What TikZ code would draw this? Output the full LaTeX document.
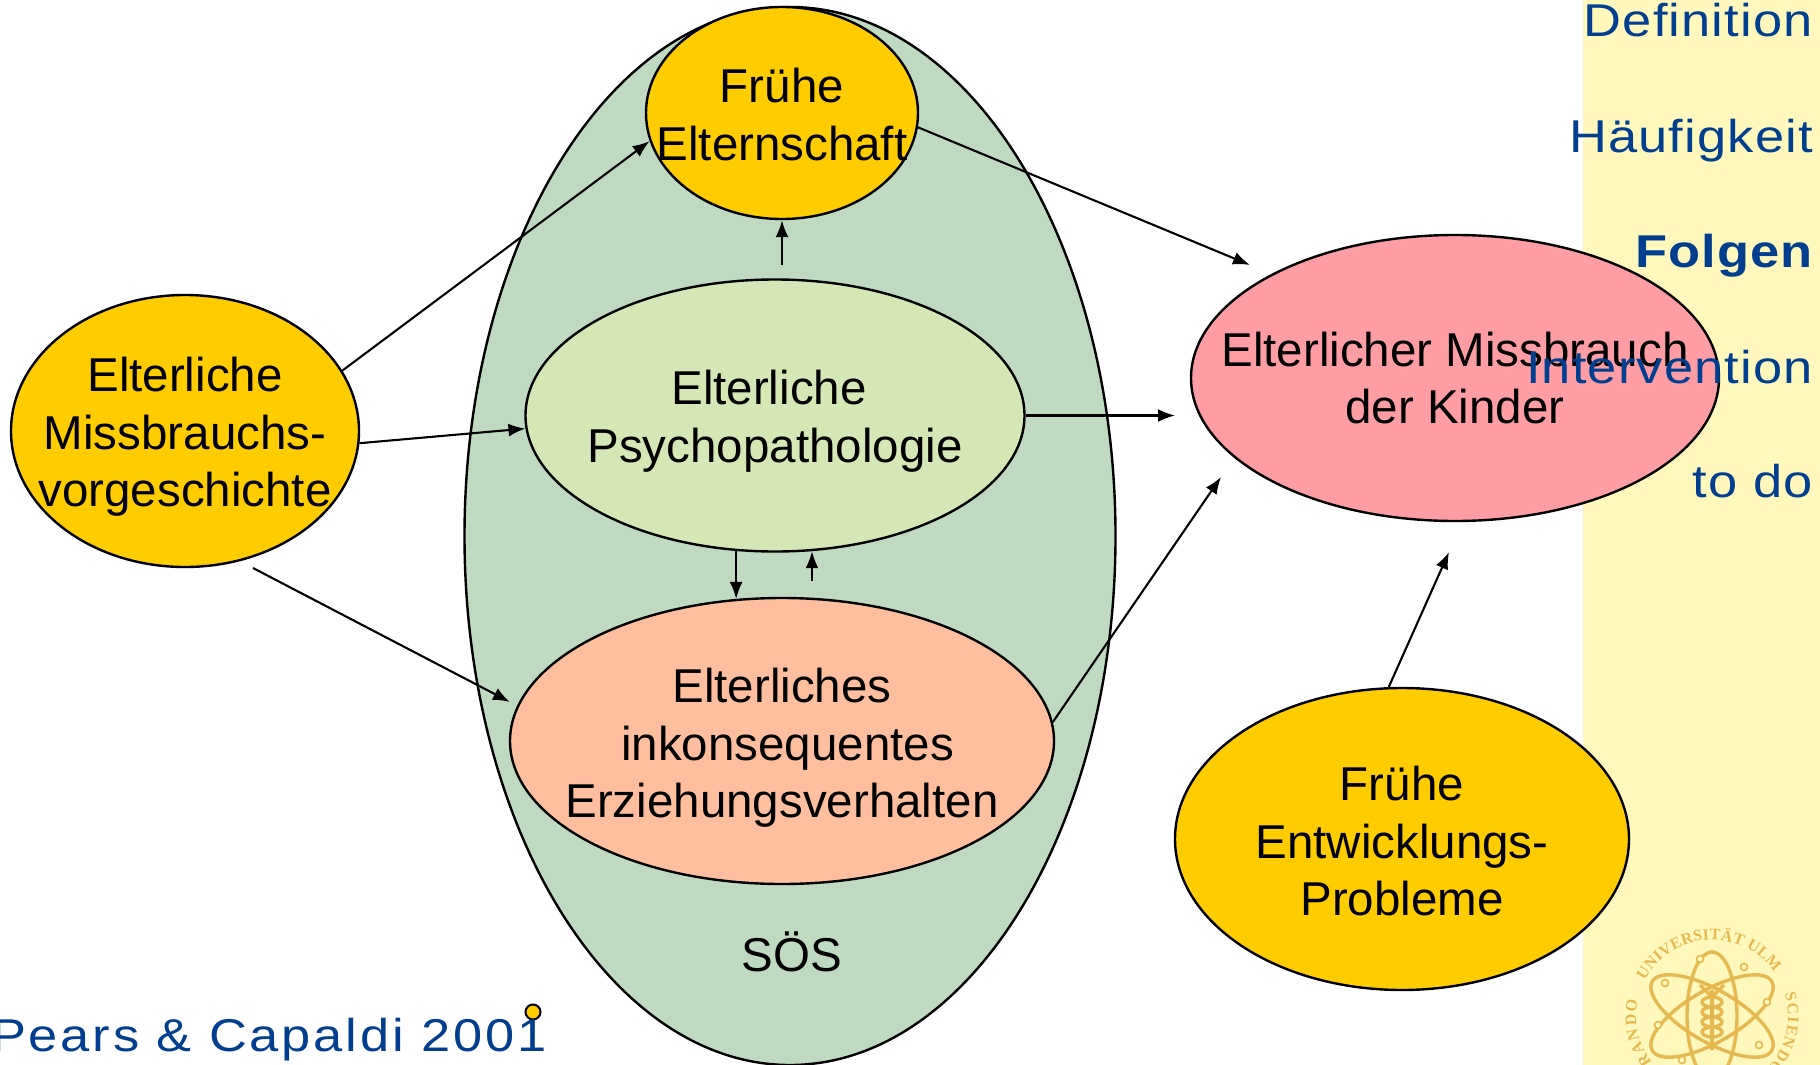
\documentclass[tikz,border=0pt]{standalone}
\usepackage{fontspec}
\usetikzlibrary{arrows.meta,shapes.geometric,decorations.text}
\setmainfont{Liberation Sans}
\newfontfamily\sidefont[LetterSpace=2.5,FakeStretch=1.14]{Liberation Sans}
\newfontfamily\sourcefont[LetterSpace=6.2,FakeStretch=1.14]{Liberation Sans}
\newfontfamily\logotype{Liberation Serif}
\definecolor{strip}{HTML}{FFF8BD}
\definecolor{gold}{HTML}{FFCC00}
\definecolor{sosgreen}{HTML}{C0DAC2}
\definecolor{psygreen}{HTML}{D4E7B5}
\definecolor{salmon}{HTML}{FFBF9F}
\definecolor{rose}{HTML}{FF9DA4}
\definecolor{navy}{HTML}{003F8F}
\definecolor{logo}{HTML}{E6B84E}
\newcommand{\bodyfont}{\fontsize{47.5pt}{57.5pt}\selectfont}
\newcommand{\navyfont}{\fontsize{46pt}{55pt}\selectfont\sidefont}
\newcommand{\logofont}{\fontsize{16pt}{16pt}\selectfont\logotype\bfseries}
\newcommand{\topstrut}[1]{\rule{0pt}{#1pt}}
\tikzset{
  x=1pt,y=-1pt,
  bubble/.style={ellipse,draw=black,line width=2.4pt,inner xsep=-110pt,inner ysep=-50pt,align=center,font=\bodyfont,text=black},
  link/.style={draw=black,line width=2.1pt,-{Latex[length=17pt,width=13pt]}},
  sidelabel/.style={anchor=base east,inner sep=0pt,text=navy,font=\navyfont},
  orbit/.style={draw=logo,line width=3.4pt},
  electron/.style={draw=logo,line width=1.6pt,fill=strip},
  logoarc/.style={decorate,decoration={text along path,text align={fit to path},text={#1}}}
}
\begin{document}
\begin{tikzpicture}
\useasboundingbox (0,0) rectangle (1820,1065);
\fill[white] (0,0) rectangle (1820,1065);
\fill[strip] (1583,0) rectangle (1820,1065);
% logo
\coordinate (lc) at (1712,1016);
\begin{scope}
\clip (1583,900) rectangle (1820,1065);
\draw[orbit] (lc) ellipse [x radius=25,y radius=64];
\draw[orbit,rotate around={60:(lc)}] (lc) ellipse [x radius=26,y radius=69];
\draw[orbit,rotate around={-60:(lc)}] (lc) ellipse [x radius=26,y radius=69];
\draw[orbit] (1712,990) -- (1712,1050);
\draw[orbit] (1700,985) -- (1712,997) -- (1724,985);
\foreach \yy in {1002,1012,1022,1032}{\draw[orbit] (1712,\yy) ellipse [x radius=10,y radius=5];}
\foreach \xx/\yy in {1700/959,1744/967,1665/983,1658/1025,1767/1002,1759/1045,1682/1060}{\draw[electron] (\xx,\yy) circle [radius=3.5];}
\path[logoarc={|\logofont\color{logo}|CURANDO}] (lc) ++(-238:76) arc [start angle=-238,end angle=-168,radius=76];
\path[logoarc={|\logofont\color{logo}|UNIVERSITÄT ULM}] (lc) ++(-152:76) arc [start angle=-152,end angle=-35,radius=76];
\path[logoarc={|\logofont\color{logo}|SCIENDO}] (lc) ++(-17:76) arc [start angle=-17,end angle=44,radius=76];
\end{scope}
% large ellipses
\node[bubble,fill=sosgreen,minimum width=651pt,minimum height=1058pt] (sos) at (790,536) {};
\node[anchor=center,inner sep=0pt,font=\bodyfont] (soslabel) at (792,952) {SÖS};
\node[bubble,fill=gold,minimum width=272pt,minimum height=212pt] (elt) at (782,113) {\topstrut{37}Frühe\\Elternschaft};
\node[bubble,fill=psygreen,minimum width=499pt,minimum height=272pt] (psy) at (775,415.5) {\topstrut{46}\hspace*{-12pt}Elterliche\\Psychopathologie};
\node[bubble,fill=salmon,minimum width=544pt,minimum height=286pt] (erz) at (782,741) {\topstrut{48.5}Elterliches\\\hspace*{11pt}inkonsequentes\\Erziehungsverhalten};
\node[bubble,fill=gold,minimum width=348pt,minimum height=272pt] (his) at (185,431) {\topstrut{46}Elterliche\\Missbrauchs-\\vorgeschichte};
\node[bubble,fill=rose,minimum width=528pt,minimum height=286pt] (kid) at (1455,378) {Elterlicher Missbrauch\\der Kinder};
\node[bubble,fill=gold,minimum width=454pt,minimum height=302pt] (dev) at (1402,839) {\topstrut{39}Frühe\\Entwicklungs-\\Probleme};
% free ends
\coordinate (psyup) at (782,265);
\coordinate (psyout) at (1175,415.5);
\coordinate (erzup) at (812,581);
\coordinate (eltout) at (1250,265);
\coordinate (erzout) at (1221,477);
\coordinate (devout) at (1449,552);
\coordinate (hisfoot) at (253,568);
\coordinate (erzin) at (510,702);
% connectors
\draw[link] (his.21.2) -- (elt.192.7);
\draw[link] (his.-4.9) -- (psy.183.5);
\draw[link] (hisfoot) -- (erzin);
\draw[link] (psyup) -- (elt.south);
\draw[link] (psy.east) -- (psyout);
\draw[link] (psy.254) -- (psy.254 |- erz.108);
\draw[link] (erzup) -- (erzup |- psy.-75);
\draw[link] (elt.-6.7) -- (eltout);
\draw[link] (erz.4.4) -- (erzout);
\draw[link] (dev.95.7) -- (devout);
% small marker and sidebar text
\node[circle,draw=black,fill=gold,line width=2pt,minimum size=15pt,inner sep=0pt] (dot) at (533,1012) {};
\node[sidelabel] (menu1) at (1813,37) {Definition};
\node[sidelabel] (menu2) at (1813,152) {Häufigkeit};
\node[sidelabel,font=\fontsize{46pt}{55pt}\selectfont\sidefont\bfseries] (menu3) at (1813,267) {Folgen};
\node[sidelabel] (menu4) at (1813,383) {Intervention};
\node[sidelabel] (menu5) at (1813,497) {to do};
\node[sidelabel,font=\fontsize{46pt}{55pt}\selectfont\sourcefont] (source) at (547,1051) {Pears \& Capaldi 2001};
\end{tikzpicture}
\end{document}
